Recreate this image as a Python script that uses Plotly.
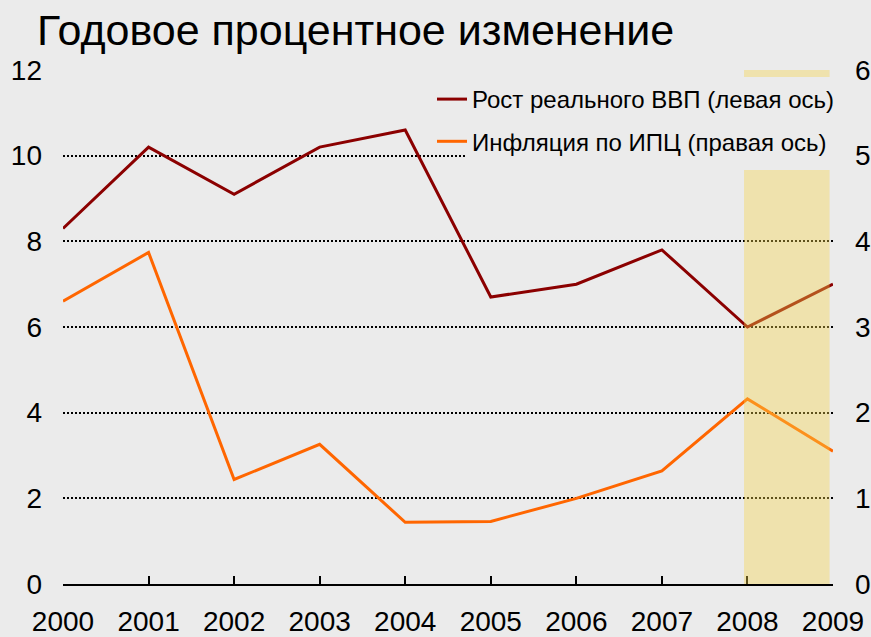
import plotly.graph_objects as go

years = [2000, 2001, 2002, 2003, 2004, 2005, 2006, 2007, 2008, 2009]
gdp_growth = [8.3, 10.2, 9.1, 10.2, 10.6, 6.7, 7.0, 7.8, 6.0, 7.0]
cpi_inflation = [3.3, 3.87, 1.22, 1.63, 0.72, 0.73, 1.0, 1.32, 2.16, 1.55]
highlight_period = [2007.96, 2008.96]

title_text = "Годовое процентное изменение"
gdp_name = "Рост реального ВВП (левая ось)"
cpi_name = "Инфляция по ИПЦ (правая ось)"

BG = "#EBEBEB"
FONT = "Liberation Sans, Arial, sans-serif"

fig = go.Figure()
fig.add_trace(go.Scatter(
    x=years, y=gdp_growth, name=gdp_name, mode="lines",
    line=dict(color="#8B0000", width=3), legendgroup="a", yaxis="y"))
fig.add_trace(go.Scatter(
    x=years, y=cpi_inflation, name=cpi_name, mode="lines",
    line=dict(color="#FF6600", width=3), legendgroup="b", yaxis="y2"))

# highlighted period (semi-transparent, drawn over the lines)
fig.add_shape(type="rect", xref="x", yref="y",
              x0=highlight_period[0], x1=highlight_period[1], y0=0, y1=12,
              fillcolor="#F7D54A", opacity=0.38, line=dict(width=0), layer="above")
# legend text background box
fig.add_shape(type="rect", xref="paper", yref="paper",
              x0=(465 - 63) / 770, x1=1.0, y0=(584 - 170) / 514, y1=(584 - 77) / 514,
              fillcolor=BG, line=dict(width=0), layer="above")

fig.update_layout(
    width=871, height=637,
    paper_bgcolor=BG, plot_bgcolor=BG,
    margin=dict(l=63, r=38, t=70, b=53, autoexpand=False),
    font=dict(family=FONT, color="black", size=28),
    title=dict(text=title_text, font=dict(size=43, family=FONT, color="black"),
               xref="container", yref="container", x=37/871, xanchor="left",
               y=1 - 30/637, yanchor="middle"),
    xaxis=dict(range=[2000, 2009], tickmode="array", tickvals=years,
               ticktext=[str(y) for y in years],
               showline=True, linecolor="black", linewidth=1.5,
               ticks="inside", ticklen=8, tickcolor="black", tickwidth=1.5,
               showgrid=False, zeroline=False, ticklabelstandoff=12,
               automargin=False, tickfont=dict(size=28)),
    yaxis=dict(range=[0, 12], dtick=2, showgrid=True, gridcolor="black",
               gridwidth=1.5, griddash="2px,2px", zeroline=False,
               showline=False, ticks="", ticklabelstandoff=20,
               automargin=False, tickfont=dict(size=28)),
    yaxis2=dict(range=[0, 6], dtick=1, overlaying="y", side="right",
                showgrid=False, zeroline=False, showline=False, ticks="",
                ticklabelstandoff=21, automargin=False, tickfont=dict(size=28)),
    showlegend=True,
    legend=dict(x=(432 - 63) / 770, xanchor="left", y=(584 - 77) / 514,
                yanchor="top", bgcolor="rgba(0,0,0,0)", borderwidth=0,
                font=dict(size=24, family=FONT, color="black"),
                traceorder="grouped", tracegroupgap=8,
                itemwidth=30),
)

fig.write_html("out.html", config={"displayModeBar": False},
               post_script="document.body.style.margin='0';document.body.style.overflow='hidden';")
